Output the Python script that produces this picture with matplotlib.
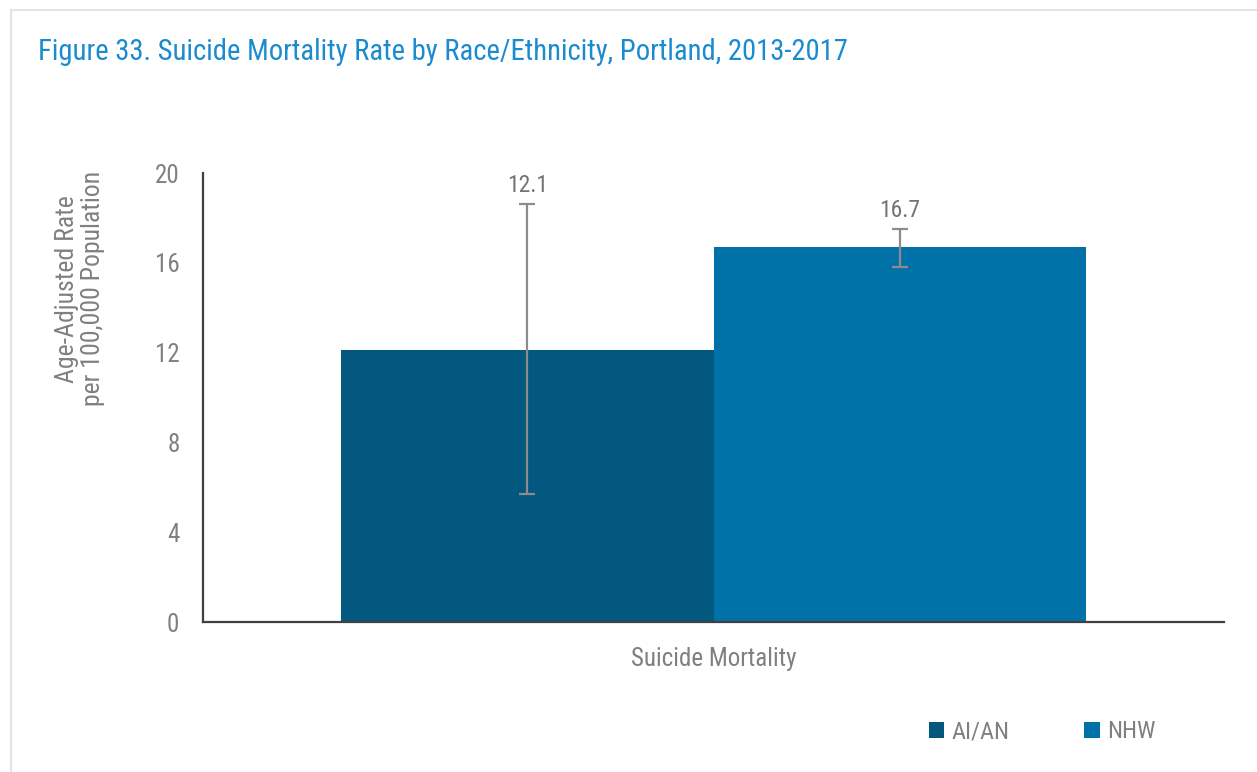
import matplotlib
matplotlib.use('Agg')
import matplotlib.pyplot as plt
from matplotlib.lines import Line2D
from matplotlib.patches import Patch

plt.rcParams['font.family'] = ['Roboto Condensed', 'DejaVu Sans']

# ── Data ──────────────────────────────────────────────────────────────────────
category = 'Suicide Mortality'
groups = ['AI/AN', 'NHW']
rates = [12.1, 16.7]
ci_low = [5.7, 15.8]
ci_high = [18.6, 17.5]
yticks = [0, 4, 8, 12, 16, 20]

COLORS = ['#02587e', '#0172a8']
GRAY = '#808080'

# ── Plot ──────────────────────────────────────────────────────────────────────
fig = plt.figure(figsize=(12.57, 7.72), dpi=100)
ax = fig.add_axes([0.1615, 0.1943, 0.8123, 0.5816])

width = 0.3644
offsets = [-width / 2, width / 2]
for name, val, lo, hi, off, col in zip(groups, rates, ci_low, ci_high, offsets, COLORS):
    ax.bar(off, val, width=width, color=col, label=name, zorder=2)
    ax.errorbar(off, val, yerr=[[val - lo], [hi - val]], fmt='none',
                ecolor='#8c8c8c', elinewidth=1.6, capsize=6, capthick=1.6, zorder=3)
    ax.annotate(f'{val:.1f}', (off, hi), xytext=(0, 5), textcoords='offset points',
                ha='center', va='bottom', fontsize=17, color='#737373')

ax.set_xlim(-0.5, 0.5)
ax.set_ylim(0, 20)
ax.set_yticks(yticks)
ax.set_xticks([0])
ax.set_xticklabels([category])
ax.tick_params(axis='both', length=0, labelsize=18, labelcolor=GRAY)
ax.tick_params(axis='x', pad=18)
ax.tick_params(axis='y', pad=17)

for side in ('top', 'right'):
    ax.spines[side].set_visible(False)
for side in ('left', 'bottom'):
    ax.spines[side].set_color('#404040')
    ax.spines[side].set_linewidth(1.6)

ax.set_ylabel('Age-Adjusted Rate\nper 100,000 Population', fontsize=18.5,
              color=GRAY, linespacing=1.1)
ax.yaxis.set_label_coords(-0.096, 0.742)

fig.text(0.030, 0.932, 'Figure 33. Suicide Mortality Rate by Race/Ethnicity, Portland, 2013-2017',
         fontsize=20.6, color='#1a8bcf', ha='left', va='center')

handles = [Patch(facecolor=c, edgecolor='none') for c in COLORS]
fig.legend(handles, groups, loc='center', bbox_to_anchor=(0.829, 0.052), ncol=2,
           frameon=False, fontsize=17.5, labelcolor=GRAY, handlelength=0.62,
           handleheight=0.62, handletextpad=0.3, columnspacing=3.1)

# light frame along the top and left edges
fig.add_artist(Line2D([0.009, 1.0], [0.987, 0.987], transform=fig.transFigure,
                      color='#e3e3e3', linewidth=1.5))
fig.add_artist(Line2D([0.009, 0.009], [0.0, 0.987], transform=fig.transFigure,
                      color='#e3e3e3', linewidth=1.5))

fig.savefig('out.png', dpi=100, facecolor='white')
